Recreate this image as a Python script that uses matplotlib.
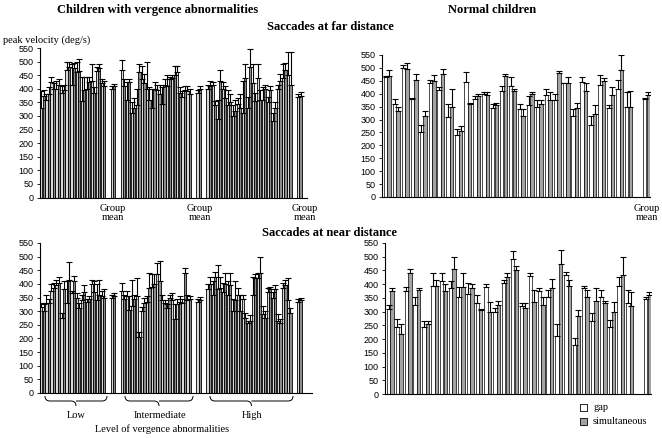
import numpy as np
import matplotlib
matplotlib.use("Agg")
import matplotlib.pyplot as plt
from matplotlib.patches import Rectangle, PathPatch
from matplotlib.path import Path

# ---------------- data ----------------
# Children with vergence abnormalities - far distance (Low, Intermediate, High groups + group means)
far_low_gap = [330, 360, 425, 400, 385, 470, 415, 460, 355, 400, 430, 465, 420]
far_low_sim = [375, 380, 400, 415, 395, 480, 475, 465, 395, 425, 385, 475, 410]
far_low_gap_err = [60, 20, 20, 30, 25, 30, 75, 40, 90, 45, 60, 15, 15]
far_low_sim_err = [20, 25, 20, 20, 20, 20, 20, 45, 50, 20, 20, 15, 20]
far_low_mean = [400, 410]
far_low_mean_err = [10, 8]
far_int_gap = [470, 360, 310, 340, 435, 400, 330, 395, 345, 410, 440, 460, 370, 390]
far_int_sim = [410, 425, 330, 460, 420, 360, 400, 380, 415, 435, 450, 385, 395, 380]
far_int_gap_err = [35, 65, 40, 60, 50, 100, 70, 20, 60, 40, 10, 25, 20, 20]
far_int_sim_err = [25, 10, 35, 30, 35, 45, 25, 35, 20, 10, 35, 20, 15, 20]
far_int_mean = [385, 400]
far_int_mean_err = [10, 12]
far_high_gap = [400, 415, 290, 400, 340, 300, 345, 310, 330, 420, 440, 360, 350, 280, 400, 440, 450]
far_high_sim = [410, 340, 430, 365, 350, 320, 330, 440, 480, 355, 360, 400, 395, 330, 430, 470, 415]
far_high_gap_err = [15, 10, 70, 25, 55, 40, 20, 120, 40, 70, 50, 45, 20, 30, 15, 50, 85]
far_high_sim_err = [20, 15, 40, 45, 30, 40, 50, 50, 65, 30, 35, 15, 15, 20, 25, 25, 120]
far_high_mean = [370, 375]
far_high_mean_err = [12, 12]

# Children with vergence abnormalities - near distance
near_low_gap = [315, 330, 375, 395, 275, 330, 365, 350, 340, 335, 400, 340, 355]
near_low_sim = [300, 330, 385, 405, 380, 415, 410, 310, 370, 345, 370, 360, 350]
near_low_gap_err = [15, 30, 25, 20, 20, 80, 10, 15, 20, 10, 15, 60, 20]
near_low_sim_err = [25, 15, 20, 20, 30, 65, 20, 20, 25, 10, 40, 55, 30]
near_low_mean = [350, 355]
near_low_mean_err = [10, 12]
near_int_gap = [375, 355, 320, 355, 300, 335, 390, 435, 340, 310, 340, 325, 330, 340]
near_int_sim = [345, 305, 345, 205, 330, 385, 400, 410, 330, 350, 270, 335, 440, 345]
near_int_gap_err = [30, 20, 95, 65, 15, 20, 45, 40, 20, 15, 25, 20, 15, 20]
near_int_sim_err = [15, 50, 15, 20, 20, 55, 35, 75, 10, 10, 55, 20, 20, 10]
near_int_mean = [335, 340]
near_int_mean_err = [10, 12]
near_high_gap = [380, 360, 380, 370, 360, 300, 360, 345, 255, 360, 420, 290, 370, 350, 265, 385, 340]
near_high_sim = [400, 425, 385, 400, 395, 340, 300, 275, 265, 420, 440, 275, 380, 380, 255, 395, 295]
near_high_gap_err = [20, 50, 90, 35, 50, 45, 25, 15, 10, 65, 20, 30, 15, 20, 25, 20, 80]
near_high_sim_err = [25, 20, 40, 40, 45, 70, 60, 20, 20, 15, 60, 25, 10, 15, 15, 20, 15]
near_high_mean = [335, 340]
near_high_mean_err = [10, 10]

# Normal children - far distance (28 children + group mean)
nf_gap = [465, 360, 500, 380, 250, 440, 415, 310, 240, 445, 380, 400, 345, 410,
          430, 340, 355, 350, 395, 375, 440, 315, 445, 280, 435, 345, 420, 350]
nf_sim = [470, 335, 495, 455, 315, 450, 475, 350, 255, 360, 390, 395, 355, 470,
          410, 315, 400, 360, 375, 480, 440, 345, 410, 320, 450, 395, 490, 350]
nf_gap_err = [5, 18, 10, 5, 30, 15, 10, 50, 22, 38, 10, 5, 15, 18,
              35, 20, 35, 25, 23, 25, 2, 25, 20, 35, 37, 13, 35, 58]
nf_sim_err = [20, 15, 25, 23, 18, 22, 20, 70, 20, 5, 8, 13, 10, 5,
              10, 25, 8, 15, 33, 7, 25, 20, 30, 35, 10, 30, 60, 60]
nf_mean = [380, 395]
nf_mean_err = [5, 10]

# Normal children - near distance
nn_gap = [310, 245, 375, 325, 245, 395, 410, 385, 355, 365, 330, 390, 300, 405,
          490, 320, 430, 375, 355, 210, 435, 180, 385, 265, 355, 245, 395, 330]
nn_sim = [375, 220, 440, 380, 255, 395, 375, 455, 390, 385, 305, 300, 325, 425,
          450, 315, 335, 325, 385, 475, 395, 285, 355, 340, 330, 300, 435, 320]
nn_gap_err = [15, 30, 15, 30, 20, 45, 30, 25, 35, 40, 30, 10, 15, 10,
              30, 10, 10, 10, 25, 45, 10, 25, 10, 30, 25, 25, 30, 50]
nn_sim_err = [10, 35, 15, 5, 10, 20, 25, 45, 50, 15, 5, 35, 15, 15,
              15, 15, 45, 30, 35, 50, 20, 20, 25, 45, 10, 35, 65, 50]
nn_mean = [345, 360]
nn_mean_err = [10, 10]

yticks = list(range(0, 551, 50))
GAP_C = "white"
SIM_C = "#a3a3a3"

W, H = 662, 438
fig = plt.figure(figsize=(W / 100, H / 100), dpi=100)

def fx(px):
    return px / W

def fy(py):
    return 1 - py / H

def make_ax(x0, y0, x1, y1):
    ax = fig.add_axes([fx(x0), fy(y1), fx(x1 - x0), (y1 - y0) / H])
    ax.set_ylim(0, 550)
    ax.set_yticks(yticks)
    ax.tick_params(axis="y", labelsize=6.5, length=2.5, width=0.6, pad=2)
    for lab in ax.get_yticklabels():
        lab.set_fontfamily("Liberation Sans")
    ax.set_xticks([])
    for s in ["top", "right"]:
        ax.spines[s].set_visible(False)
    for s in ["left", "bottom"]:
        ax.spines[s].set_linewidth(0.8)
    ax.patch.set_alpha(0)
    return ax

def draw_pairs(ax, pos, gap, sim, gerr, serr, width, off, elw=0.5, gapc=GAP_C, simc=SIM_C):
    pos = np.asarray(pos, dtype=float)
    gap = np.asarray(gap, float); sim = np.asarray(sim, float)
    ax.bar(pos - off, gap, width, color=gapc, edgecolor="black", linewidth=elw, zorder=2)
    ax.bar(pos + off, sim, width, color=simc, edgecolor="black", linewidth=elw, zorder=2)
    ax.errorbar(pos - off, gap, yerr=[np.zeros_like(gap), np.asarray(gerr, float)], fmt="none",
                ecolor="black", elinewidth=0.8, capsize=2, capthick=0.8, zorder=3)
    ax.errorbar(pos + off, sim, yerr=[np.zeros_like(sim), np.asarray(serr, float)], fmt="none",
                ecolor="black", elinewidth=0.8, capsize=2, capthick=0.8, zorder=3)

def draw_vergence(ax, groups):
    start = 0
    for gap, sim, ge, se, mean, mean_err in groups:
        n = len(gap)
        pos = np.arange(start, start + n)
        draw_pairs(ax, pos, gap, sim, ge, se, 0.44, 0.23, elw=0.6, gapc="#d9d9d9", simc="#8c8c8c")
        mpos = start + n + 1
        draw_pairs(ax, [mpos], [mean[0]], [mean[1]], [mean_err[0]], [mean_err[1]], 0.44, 0.23,
                   elw=0.6, gapc="#d9d9d9", simc="#8c8c8c")
        start = mpos + 2

serif = "Liberation Serif"

# top-left
ax1 = make_ax(40, 48, 307, 197.5)
draw_vergence(ax1, [
    (far_low_gap, far_low_sim, far_low_gap_err, far_low_sim_err, far_low_mean, far_low_mean_err),
    (far_int_gap, far_int_sim, far_int_gap_err, far_int_sim_err, far_int_mean, far_int_mean_err),
    (far_high_gap, far_high_sim, far_high_gap_err, far_high_sim_err, far_high_mean, far_high_mean_err),
])
ax1.set_xlim(-0.5, 52.5)

# bottom-left
ax3 = make_ax(40, 243, 312, 393)
draw_vergence(ax3, [
    (near_low_gap, near_low_sim, near_low_gap_err, near_low_sim_err, near_low_mean, near_low_mean_err),
    (near_int_gap, near_int_sim, near_int_gap_err, near_int_sim_err, near_int_mean, near_int_mean_err),
    (near_high_gap, near_high_sim, near_high_gap_err, near_high_sim_err, near_high_mean, near_high_mean_err),
])
ax3.set_xlim(-0.5, 53.5)

# top-right
ax2 = make_ax(382, 55, 650, 197)
n = len(nf_gap)
draw_pairs(ax2, np.arange(n), nf_gap, nf_sim, nf_gap_err, nf_sim_err, 0.38, 0.2)
draw_pairs(ax2, [n + 1], [nf_mean[0]], [nf_mean[1]], [nf_mean_err[0]], [nf_mean_err[1]], 0.38, 0.2)
ax2.set_xlim(-0.6, n + 1.4)

# bottom-right
ax4 = make_ax(385, 243, 651, 394)
n = len(nn_gap)
draw_pairs(ax4, np.arange(n), nn_gap, nn_sim, nn_gap_err, nn_sim_err, 0.38, 0.2)
draw_pairs(ax4, [n + 1], [nn_mean[0]], [nn_mean[1]], [nn_mean_err[0]], [nn_mean_err[1]], 0.38, 0.2)
ax4.set_xlim(-0.6, n + 1.4)

# ---------------- texts ----------------
fig.text(fx(158), fy(10), "Children with vergence abnormalities", ha="center", va="center",
         fontsize=9, fontweight="bold", family=serif)
fig.text(fx(492), fy(10), "Normal children", ha="center", va="center",
         fontsize=9, fontweight="bold", family=serif)
fig.text(fx(330), fy(27), "Saccades at far distance", ha="center", va="center",
         fontsize=9, fontweight="bold", family=serif)
fig.text(fx(330), fy(233), "Saccades at near distance", ha="center", va="center",
         fontsize=9, fontweight="bold", family=serif)
fig.text(fx(3), fy(40), "peak velocity (deg/s)", ha="left", va="center",
         fontsize=7.5, family=serif)

for x in [113, 200, 305, 647]:
    fig.text(fx(x), fy(213), "Group\nmean", ha="center", va="center", fontsize=7.5,
             family=serif, linespacing=1.0)

# braces
def brace(x0, x1, ytop, h=10):
    xm = (x0 + x1) / 2
    r = h / 2
    verts = [
        (x0, ytop), (x0, ytop + r), (x0 + r, ytop + r),
        (xm - r, ytop + r), (xm, ytop + r), (xm, ytop + h),
        (xm, ytop + r), (xm + r, ytop + r),
        (x1 - r, ytop + r), (x1, ytop + r), (x1, ytop),
    ]
    codes = [Path.MOVETO, Path.CURVE3, Path.CURVE3, Path.LINETO, Path.CURVE3, Path.CURVE3,
             Path.MOVETO, Path.CURVE3, Path.LINETO, Path.CURVE3, Path.CURVE3]
    verts = [(fx(a), fy(b)) for a, b in verts]
    fig.add_artist(PathPatch(Path(verts, codes), transform=fig.transFigure,
                             fill=False, lw=0.7, edgecolor="black"))

brace(45, 107, 396)
brace(125, 193, 396)
brace(210, 293, 396)
fig.text(fx(76), fy(415), "Low", ha="center", va="center", fontsize=7.5, family=serif)
fig.text(fx(160), fy(415), "Intermediate", ha="center", va="center", fontsize=7.5, family=serif)
fig.text(fx(252), fy(415), "High", ha="center", va="center", fontsize=7.5, family=serif)
fig.text(fx(162), fy(429), "Level of vergence abnormalities", ha="center", va="center",
         fontsize=7.5, family=serif)

# legend
for yy, col, lab in [(407, GAP_C, "gap"), (421, SIM_C, "simultaneous")]:
    fig.add_artist(Rectangle((fx(580), fy(yy + 3.5)), 7 / W, 7 / H, transform=fig.transFigure,
                             facecolor=col, edgecolor="black", lw=0.6))
    fig.text(fx(593), fy(yy), lab, ha="left", va="center", fontsize=7.5, family=serif)

fig.savefig("out.png", dpi=100)
